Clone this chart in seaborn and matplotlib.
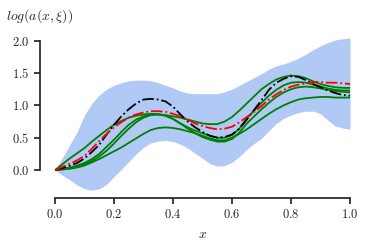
import numpy as np
import matplotlib
matplotlib.use("Agg")
import matplotlib.pyplot as plt
import seaborn as sns
from matplotlib.ticker import FuncFormatter

# grid in x
x = [0.000, 0.025, 0.050, 0.075, 0.100, 0.125, 0.150, 0.175, 0.200, 0.225,
     0.250, 0.275, 0.300, 0.325, 0.350, 0.375, 0.400, 0.425, 0.450, 0.475,
     0.500, 0.525, 0.550, 0.575, 0.600, 0.625, 0.650, 0.675, 0.700, 0.725,
     0.750, 0.775, 0.800, 0.825, 0.850, 0.875, 0.900, 0.925, 0.950, 0.975,
     1.000]

# true field (black)
true_vals = [0, 0.03, 0.07, 0.11, 0.18, 0.28, 0.39, 0.55, 0.70, 0.83,
             0.94, 1.03, 1.09, 1.10, 1.09, 1.06, 0.98, 0.86, 0.75, 0.66,
             0.59, 0.53, 0.50, 0.51, 0.55, 0.64, 0.78, 0.93, 1.08, 1.24,
             1.35, 1.41, 1.45, 1.44, 1.39, 1.33, 1.28, 1.23, 1.19, 1.16,
             1.15]
# posterior mean (red)
mean_vals = [0, 0.05, 0.10, 0.15, 0.22, 0.33, 0.45, 0.56, 0.66, 0.74,
             0.81, 0.86, 0.89, 0.91, 0.91, 0.90, 0.87, 0.83, 0.78, 0.72,
             0.68, 0.65, 0.63, 0.64, 0.67, 0.74, 0.82, 0.90, 0.99, 1.09,
             1.17, 1.24, 1.29, 1.32, 1.34, 1.36, 1.36, 1.35, 1.35, 1.34,
             1.33]

# posterior samples (green)
sample_1 = [0, 0.09, 0.18, 0.26, 0.34, 0.44, 0.53, 0.62, 0.70, 0.76,
            0.81, 0.84, 0.86, 0.87, 0.86, 0.85, 0.83, 0.81, 0.78, 0.75,
            0.72, 0.71, 0.71, 0.75, 0.82, 0.92, 1.03, 1.14, 1.25, 1.33,
            1.40, 1.44, 1.46, 1.45, 1.42, 1.37, 1.33, 1.30, 1.28, 1.27,
            1.27]
sample_2 = [0, 0.02, 0.04, 0.07, 0.11, 0.17, 0.25, 0.36, 0.47, 0.59,
            0.70, 0.78, 0.83, 0.86, 0.86, 0.84, 0.79, 0.72, 0.66, 0.61,
            0.57, 0.53, 0.50, 0.50, 0.54, 0.64, 0.80, 0.92, 1.04, 1.15,
            1.24, 1.31, 1.35, 1.36, 1.35, 1.32, 1.29, 1.26, 1.24, 1.23,
            1.23]
sample_3 = [0, 0.01, 0.03, 0.06, 0.09, 0.14, 0.21, 0.30, 0.41, 0.53,
            0.64, 0.74, 0.81, 0.85, 0.86, 0.84, 0.79, 0.72, 0.64, 0.57,
            0.51, 0.47, 0.44, 0.44, 0.48, 0.58, 0.72, 0.83, 0.94, 1.04,
            1.13, 1.20, 1.25, 1.28, 1.29, 1.28, 1.26, 1.24, 1.22, 1.21,
            1.20]
sample_4 = [0, 0.01, 0.02, 0.04, 0.07, 0.12, 0.17, 0.23, 0.29, 0.35,
            0.42, 0.49, 0.56, 0.62, 0.65, 0.66, 0.65, 0.63, 0.60, 0.57,
            0.53, 0.49, 0.46, 0.46, 0.50, 0.56, 0.63, 0.71, 0.79, 0.87,
            0.94, 1.00, 1.05, 1.09, 1.11, 1.12, 1.13, 1.13, 1.12, 1.12,
            1.12]

# credible band
band_low = [0, -0.08, -0.15, -0.23, -0.29, -0.31, -0.29, -0.22, -0.10, 0.01,
            0.13, 0.25, 0.35, 0.42, 0.45, 0.46, 0.44, 0.40, 0.34, 0.26,
            0.18, 0.10, 0.06, 0.07, 0.12, 0.21, 0.32, 0.41, 0.49, 0.61,
            0.72, 0.80, 0.85, 0.89, 0.91, 0.91, 0.87, 0.77, 0.68, 0.65,
            0.63]
band_high = [0, 0.19, 0.39, 0.59, 0.85, 1.03, 1.16, 1.25, 1.31, 1.35,
             1.38, 1.39, 1.39, 1.38, 1.35, 1.31, 1.27, 1.22, 1.19, 1.18,
             1.18, 1.18, 1.18, 1.21, 1.25, 1.31, 1.37, 1.43, 1.49, 1.56,
             1.61, 1.64, 1.68, 1.73, 1.79, 1.86, 1.92, 1.97, 2.01, 2.03,
             2.04]

sns.set_theme(style="ticks")
plt.rcParams["mathtext.fontset"] = "cm"
plt.rcParams["font.family"] = ["DejaVu Serif"]

fig = plt.figure(figsize=(3.74, 2.46), dpi=100)
ax = fig.add_axes([0.147, 0.2244, 0.789, 0.621])

ax.fill_between(x, band_low, band_high, color="cornflowerblue", alpha=0.5, linewidth=0)
for s in [sample_1, sample_2, sample_3, sample_4]:
    sns.lineplot(x=x, y=s, color="green", linewidth=1.3, ax=ax)
sns.lineplot(x=x, y=true_vals, color="black", linestyle="-.", linewidth=1.3, ax=ax)
sns.lineplot(x=x, y=mean_vals, color="red", linestyle="-.", linewidth=1.3, ax=ax)

ax.set_xlim(0, 1)
ax.set_ylim(-0.32, 2.04)
ax.set_xticks([0, 0.2, 0.4, 0.6, 0.8, 1.0])
ax.set_yticks([0, 0.5, 1.0, 1.5, 2.0])
fmt = FuncFormatter(lambda v, p: f"${v:.1f}$")
ax.xaxis.set_major_formatter(fmt)
ax.yaxis.set_major_formatter(fmt)
ax.tick_params(labelsize=9, length=4)

sns.despine(ax=ax)
ax.spines["left"].set_position(("outward", 11))
ax.spines["bottom"].set_position(("outward", 5))
ax.spines["left"].set_bounds(0, 2)
ax.spines["bottom"].set_bounds(0, 1)

ax.set_xlabel(r"$x$", fontsize=10)
fig.text(0.015, 0.935, r"$log(a(x,\xi))$", fontsize=10, va="center")

fig.savefig("out.png", dpi=100)
